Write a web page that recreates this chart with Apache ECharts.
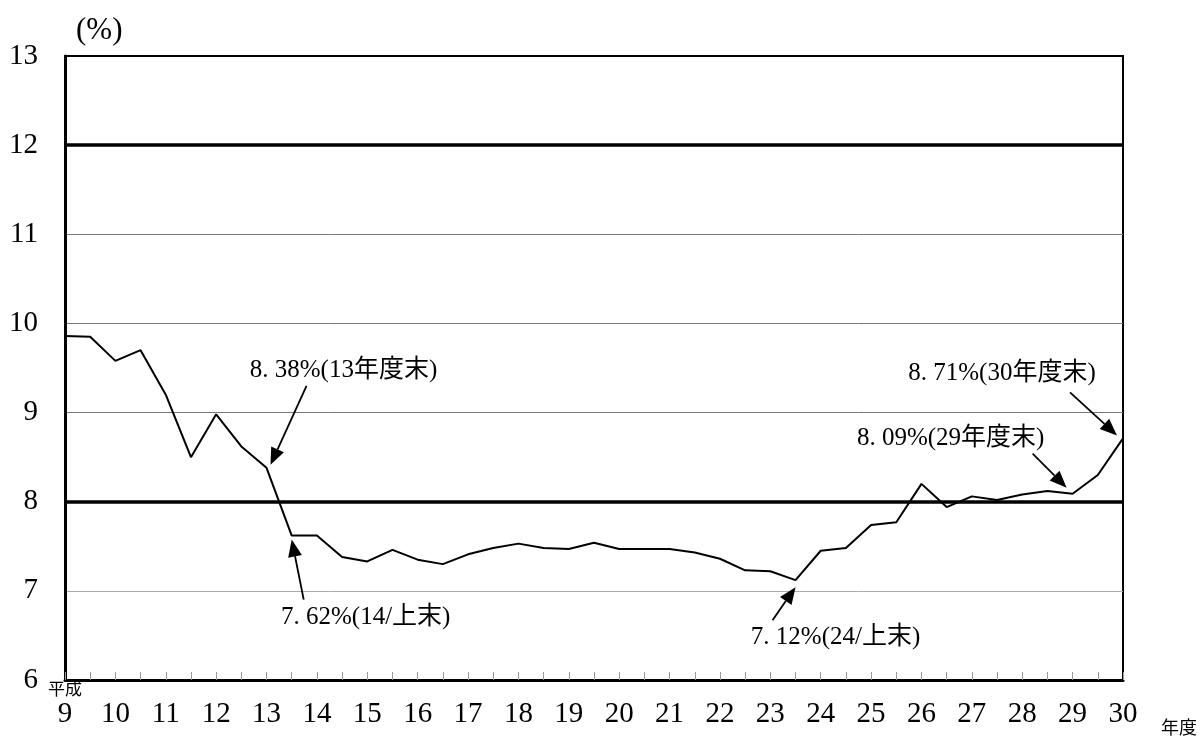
<!DOCTYPE html>
<html>
<head>
<meta charset="utf-8">
<script src="https://cdn.jsdelivr.net/npm/echarts@6/dist/echarts.min.js"></script>
<style>
html,body{margin:0;padding:0;background:#fff;}
#main{width:1201px;height:736px;}
</style>
</head>
<body>
<div id="main"></div>
<script>
// Periods: "N" = 平成N年度末, "N上" = 平成N年度上期末
const periods = ['9','10上','10','11上','11','12上','12','13上','13','14上','14','15上','15','16上','16','17上','17','18上','18','19上','19','20上','20','21上','21','22上','22','23上','23','24上','24','25上','25','26上','26','27上','27','28上','28','29上','29','30上','30'];
const ratio = [9.86,9.85,9.58,9.70,9.20,8.50,8.98,8.62,8.38,7.62,7.62,7.38,7.33,7.46,7.35,7.30,7.41,7.48,7.53,7.48,7.47,7.54,7.47,7.47,7.47,7.43,7.36,7.23,7.22,7.12,7.45,7.48,7.74,7.77,8.20,7.94,8.06,8.02,8.08,8.12,8.09,8.30,8.71];
const yTicks = [6,7,8,9,10,11,12,13];
const thickLines = [8,12];
// annotations: data index, text
const annIndex = [8, 9, 29, 40, 42];
const annText = ['8. 38%(13年度末)', '7. 62%(14/上末)', '7. 12%(24/上末)', '8. 09%(29年度末)', '8. 71%(30年度末)'];
// style offsets (px) relative to the point: text centre, arrow tail, arrow tip
const annLayout = [
  {t:[77,-97], a:[40,-82], b:[4,-3]},
  {t:[74,82], a:[12,64], b:[0,4]},
  {t:[40,57], a:[-23,40], b:[0,7]},
  {t:[-122,-55], a:[-40,-40], b:[-6,-6]},
  {t:[-121,-65], a:[-53,-46], b:[-6,-3]}
];

const FONT = "'Liberation Serif','Noto Sans CJK JP',serif";
const chart = echarts.init(document.getElementById('main'));
chart.setOption({
  animation:false,
  backgroundColor:'#fff',
  grid:{left:65,right:78,top:56,bottom:56,show:true,borderColor:'#000',borderWidth:2,backgroundColor:'transparent'},
  xAxis:{
    type:'category',
    data:periods,
    boundaryGap:false,
    axisLine:{show:true,onZero:false,lineStyle:{color:'#000',width:3}},
    axisTick:{show:true,inside:true,interval:0,length:8,lineStyle:{color:'#999',width:1}},
    axisLabel:{interval:0,margin:20,fontFamily:FONT,fontSize:29,color:'#000',
      formatter:function(v){return v.indexOf('上')>=0?'':v;}},
    splitLine:{show:false}
  },
  yAxis:{
    type:'value',min:yTicks[0],max:yTicks[yTicks.length-1],interval:1,
    axisLine:{show:true,lineStyle:{color:'#000',width:3}},
    axisTick:{show:false},
    axisLabel:{margin:27,fontFamily:FONT,fontSize:29,color:'#000'},
    splitLine:{show:true,lineStyle:{color:['#000','#aaa','#888','#777','#777','#777','#777','#000'],width:1}}
  },
  series:[{
    type:'line',
    data:ratio,
    symbol:'none',
    lineStyle:{color:'#000',width:2},
    z:5,
    markLine:{
      silent:true,symbol:['none','none'],label:{show:false},
      lineStyle:{color:'#000',width:3.5,type:'solid'},
      data:thickLines.map(v=>({yAxis:v}))
    }
  }]
});

function drawGraphics(){
  const els = [];
  els.push({type:'text',left:76,top:15,style:{text:'(%)',font:'31px '+FONT,fill:'#000'}});
  const p0 = chart.convertToPixel({seriesIndex:0},[0,6]);
  els.push({type:'text',x:p0[0]-17,y:p0[1]+2,style:{text:'平成',font:'17px '+FONT,fill:'#000'}});
  const pe = chart.convertToPixel({seriesIndex:0},[periods.length-1,6]);
  els.push({type:'text',x:pe[0]+38,y:pe[1]+40,style:{text:'年度',font:'18px '+FONT,fill:'#000'}});
  annIndex.forEach((idx,i)=>{
    const p = chart.convertToPixel({seriesIndex:0},[idx,ratio[idx]]);
    const L = annLayout[i];
    els.push({type:'text',x:p[0]+L.t[0],y:p[1]+L.t[1],style:{text:annText[i],font:'25px '+FONT,fill:'#000',align:'center',verticalAlign:'middle'},z:10});
    const ax=p[0]+L.a[0], ay=p[1]+L.a[1], bx=p[0]+L.b[0], by=p[1]+L.b[1];
    const dx=bx-ax, dy=by-ay, len=Math.sqrt(dx*dx+dy*dy);
    const ux=dx/len, uy=dy/len;
    const hl=17, hw=7;
    const cx=bx-ux*hl, cy=by-uy*hl;
    els.push({type:'line',shape:{x1:ax,y1:ay,x2:cx,y2:cy},style:{stroke:'#000',lineWidth:1.8},z:10});
    els.push({type:'polygon',shape:{points:[[bx,by],[cx-uy*hw,cy+ux*hw],[cx+uy*hw,cy-ux*hw]]},style:{fill:'#000'},z:10});
  });
  chart.setOption({graphic:els});
}
drawGraphics();
</script>
</body>
</html>
